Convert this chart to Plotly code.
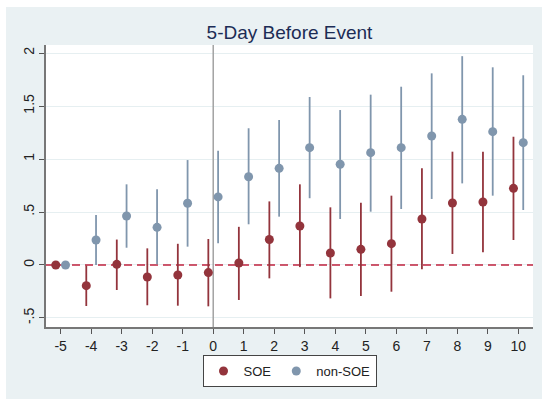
import plotly.graph_objects as go

# Event-time periods relative to the event day
periods = [-5, -4, -3, -2, -1, 0, 1, 2, 3, 4, 5, 6, 7, 8, 9, 10]
tick_labels = ["-5", "-4", "-3", "-2", "-1", "0", "1", "2", "3", "4", "5", "6", "7", "8", "9", "10"]

# SOE: point estimates with lower / upper confidence bounds
soe_coef = [0.0, -0.195, 0.006, -0.113, -0.094, -0.072, 0.019, 0.240, 0.368, 0.113, 0.148, 0.201, 0.434, 0.585, 0.594, 0.723]
soe_lo = [0.0, -0.387, -0.236, -0.380, -0.384, -0.390, -0.330, -0.126, -0.020, -0.315, -0.292, -0.252, -0.041, 0.104, 0.120, 0.236]
soe_hi = [0.0, -0.005, 0.240, 0.157, 0.200, 0.245, 0.360, 0.600, 0.761, 0.544, 0.588, 0.654, 0.912, 1.069, 1.069, 1.210]

# non-SOE: point estimates with lower / upper confidence bounds
non_coef = [0.0, 0.236, 0.462, 0.355, 0.582, 0.642, 0.833, 0.912, 1.107, 0.950, 1.060, 1.107, 1.217, 1.374, 1.258, 1.154]
non_lo = [0.0, 0.0, 0.163, 0.006, 0.173, 0.205, 0.384, 0.456, 0.630, 0.434, 0.503, 0.528, 0.623, 0.770, 0.654, 0.519]
non_hi = [0.0, 0.472, 0.761, 0.714, 0.990, 1.078, 1.290, 1.368, 1.585, 1.462, 1.607, 1.682, 1.808, 1.970, 1.865, 1.790]

y_ticks = [-0.5, 0, 0.5, 1, 1.5, 2]
y_tick_labels = ["-.5", "0", ".5", "1", "1.5", "2"]

X_RANGE = [-5.48, 10.48]
Y_RANGE = [-0.585, 2.0755]

RED = "#93343c"
BLUE = "#8096ad"
ZERO_RED = "#c0233f"
BG = "#eaf1f3"
FONT = "Liberation Sans, Arial, sans-serif"
OFFSET = 0.16


def series(name, coef, lo, hi, shift, color):
    return go.Scatter(
        x=[p + shift for p in periods],
        y=coef,
        mode="markers",
        name=name,
        marker=dict(color=color, size=9),
        error_y=dict(
            type="data",
            symmetric=False,
            array=[h - c for h, c in zip(hi, coef)],
            arrayminus=[c - l for c, l in zip(coef, lo)],
            color=color,
            thickness=1.8,
            width=0,
        ),
    )


fig = go.Figure()

# Event-day marker and dashed zero reference, drawn beneath the estimates
fig.add_trace(go.Scatter(x=[0, 0], y=Y_RANGE, mode="lines", showlegend=False,
                         hoverinfo="skip", line=dict(color="#a3a3a3", width=1.5)))
fig.add_trace(go.Scatter(x=X_RANGE, y=[0, 0], mode="lines", showlegend=False,
                         hoverinfo="skip", line=dict(color=ZERO_RED, width=1.6, dash="8px,5px")))

fig.add_trace(series("SOE", soe_coef, soe_lo, soe_hi, -OFFSET, RED))
fig.add_trace(series("non-SOE", non_coef, non_lo, non_hi, OFFSET, BLUE))

# White page edge around the tinted graph region
fig.add_shape(type="rect", xref="paper", yref="paper", x0=-0.2, x1=1.1,
              y0=(327 - 7) / 282, y1=1.3, fillcolor="white", line=dict(width=0))
fig.add_shape(type="rect", xref="paper", yref="paper", x0=-0.2, x1=(6 - 46) / 487,
              y0=-0.3, y1=1.3, fillcolor="white", line=dict(width=0))

fig.update_layout(
    width=542,
    height=399,
    margin=dict(l=46, r=9, t=45, b=72),
    paper_bgcolor=BG,
    plot_bgcolor="white",
    font=dict(family=FONT, size=14, color="#222222"),
    title=dict(
        text="5-Day Before Event",
        font=dict(family=FONT, size=19, color="#1c2c55"),
        x=0.5, xref="paper", xanchor="center",
        y=1 - 32 / 399, yref="container", yanchor="middle",
    ),
    showlegend=True,
    legend=dict(
        orientation="h",
        x=0.5, xanchor="center",
        y=(327 - 355) / 282, yanchor="top",
        bgcolor="white",
        bordercolor="#444444",
        borderwidth=1,
        font=dict(family=FONT, size=13, color="#222222"),
        itemwidth=30,
    ),
    xaxis=dict(
        range=X_RANGE,
        tickvals=periods,
        ticktext=tick_labels,
        ticks="outside",
        ticklen=5,
        tickcolor="#555555",
        showline=True,
        linecolor="#777777",
        linewidth=1.5,
        showgrid=False,
        zeroline=False,
    ),
    yaxis=dict(
        range=Y_RANGE,
        tickvals=y_ticks,
        ticktext=y_tick_labels,
        tickangle=-90,
        ticks="outside",
        ticklen=5,
        tickcolor="#555555",
        showline=True,
        linecolor="#777777",
        linewidth=1.5,
        showgrid=True,
        gridcolor="#e6eff1",
        gridwidth=1,
        zeroline=False,
    ),
)

fig.write_html("out.html")
